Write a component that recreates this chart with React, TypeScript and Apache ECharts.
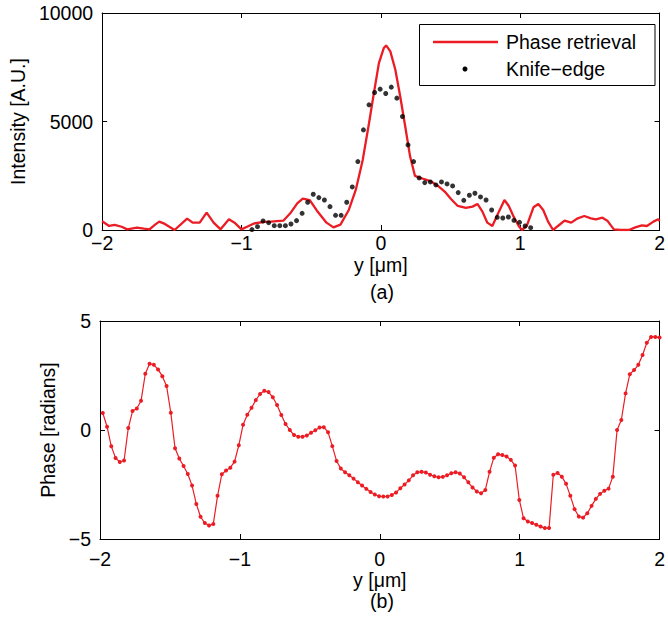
import React, { useEffect, useRef } from 'react';
import * as echarts from 'echarts';

// ---- Panel (a): intensity ----
// Phase retrieval curve (traced vertices): x in µm, intensity in A.U.
const retrievalX = [
  -2.0, -1.95, -1.91, -1.86, -1.82, -1.78, -1.75, -1.7, -1.66, -1.62, -1.59, -1.55, -1.48,
  -1.39, -1.35, -1.3, -1.25, -1.2, -1.15, -1.09, -1.05, -1.0, -0.96, -0.91, -0.84, -0.79,
  -0.7, -0.65, -0.6, -0.56, -0.51, -0.46, -0.39, -0.34, -0.29, -0.23, -0.18, -0.13, -0.085,
  -0.05, -0.014, 0.021, 0.038, 0.068, 0.104, 0.139, 0.175, 0.21, 0.245, 0.281, 0.316, 0.363,
  0.41, 0.458, 0.505, 0.552, 0.61, 0.658, 0.693, 0.729, 0.764, 0.8, 0.847, 0.887, 0.918,
  0.953, 0.989, 1.012, 1.047, 1.095, 1.13, 1.165, 1.2, 1.236, 1.271, 1.318, 1.366, 1.413,
  1.46, 1.507, 1.543, 1.59, 1.625, 1.672, 1.72, 1.78, 1.826, 1.873, 1.909, 1.956, 1.99, 2.0,
];
const retrievalY = [
  400, 185, 240, 150, 30, 80, 110, 60, 30, 250, 385, 280, 0,
  523, 338, 338, 800, 338, 30, 492, 338, 30, 150, 300, 370, 385,
  430, 770, 1230, 1450, 1380, 900, 338, 123, 250, 923, 1846, 3230, 4922,
  6306, 7690, 8384, 8505, 8230, 7384, 6153, 4768, 3384, 2492, 2400, 2338, 2230,
  2030, 1769, 1415, 1107, 1015, 1077, 1200, 846, 338, 185, 846, 1384, 1107,
  615, 185, 0, 185, 1046, 1200, 923, 385, 0, 185, 431, 338, 538,
  646, 538, 492, 569, 431, 31, 0, 0, 123, 215, 185, 385, 492, 415,
];

// Knife-edge measurement: sampled every 0.04 µm starting at -0.925 µm
const KNIFE_X0 = -0.925;
const KNIFE_DX = 0.04;
const knifeY = [
  20, 154, 415, 338, 200, 200, 200, 277, 431, 769, 1277, 1646, 1492, 1384, 1077, 677, 677,
  1277, 1984, 3153, 4614, 5768, 6337, 6491, 6291, 6583, 6076, 5230, 3922, 3153, 2400, 2184,
  2215, 2077, 2215, 2123, 2030, 1723, 1369, 1600, 1692, 1523, 1384, 923, 585, 554, 600, 446,
  354, 185, 108,
];

// ---- Panel (b): phase ----
// sampled on a uniform grid from -1.98 to 2.0 µm
const PHASE_X0 = -1.98;
const PHASE_X1 = 2.0;
const phaseY = [
  0.78, 0.15, -0.75, -1.28, -1.47, -1.4, 0.09, 0.87, 0.99, 1.34,
  2.58, 3.04, 2.99, 2.78, 2.47, 2.02, 0.79, -0.84, -1.31, -1.65,
  -2.02, -2.55, -3.39, -3.98, -4.27, -4.38, -4.31, -3.02, -2.03, -1.86,
  -1.73, -1.45, -0.7, 0.24, 0.7, 1.02, 1.37, 1.65, 1.8, 1.74,
  1.5, 1.15, 0.69, 0.28, 0.0, -0.23, -0.31, -0.31, -0.25, -0.13,
  -0.01, 0.11, 0.13, -0.1, -0.74, -1.42, -1.77, -1.94, -2.08, -2.23,
  -2.4, -2.55, -2.7, -2.84, -2.96, -3.04, -3.05, -3.05, -2.98, -2.87,
  -2.67, -2.5, -2.31, -2.08, -1.94, -1.92, -1.95, -2.05, -2.12, -2.17,
  -2.15, -2.08, -1.98, -1.94, -2.0, -2.17, -2.4, -2.64, -2.82, -2.9,
  -2.75, -1.92, -1.27, -1.11, -1.15, -1.22, -1.37, -1.63, -3.21, -4.05,
  -4.2, -4.27, -4.35, -4.43, -4.5, -4.5, -2.05, -1.97, -2.14, -2.47,
  -3.02, -3.63, -3.97, -4.02, -3.82, -3.48, -3.16, -2.93, -2.79, -2.69,
  -2.14, 0.0, 0.46, 1.68, 2.56, 2.75, 2.99, 3.44, 4.0, 4.27,
  4.27, 4.24,
];

const xTickValues = [-2, -1, 0, 1, 2];
const intensityTicks = [0, 5000, 10000];
const phaseTicks = [-5, 0, 5];

const FONT = '"Liberation Sans", Arial, sans-serif';
const FS = 19.5;
const RED = '#ec1c24';

const minus = (v: number) => String(v).replace('-', '\u2212');

export default function App() {
  const ref = useRef<HTMLDivElement>(null);

  useEffect(() => {
    if (!ref.current) return;
    const chart = echarts.init(ref.current, null, { renderer: 'svg' });

    const retrievalData = retrievalX.map((x, i) => [x, retrievalY[i]]);
    const knifeData = knifeY.map((y, i) => [KNIFE_X0 + i * KNIFE_DX, y]);
    const step = (PHASE_X1 - PHASE_X0) / (phaseY.length - 1);
    const phaseData = phaseY.map((y, i) => [PHASE_X0 + i * step, y]);

    const axisLine = { show: true, onZero: false, lineStyle: { color: '#000', width: 1 } };
    const tick = { show: true, inside: true, length: 5, lineStyle: { color: '#000', width: 1 } };
    const labelStyle = { color: '#000', fontSize: FS, fontFamily: FONT };

    const xMain = (gridIndex: number, margin: number, nameGap: number) => ({
      type: 'value',
      gridIndex,
      position: 'bottom',
      min: xTickValues[0],
      max: xTickValues[xTickValues.length - 1],
      interval: 1,
      axisLine,
      axisTick: tick,
      splitLine: { show: false },
      axisLabel: { ...labelStyle, margin, formatter: minus },
      name: 'y [\u03bcm]',
      nameLocation: 'middle',
      nameGap,
      nameTextStyle: labelStyle,
    });
    const xTop = (gridIndex: number) => ({
      type: 'value',
      gridIndex,
      position: 'top',
      min: xTickValues[0],
      max: xTickValues[xTickValues.length - 1],
      interval: 1,
      axisLine,
      axisTick: tick,
      splitLine: { show: false },
      axisLabel: { show: false },
    });
    const yMain = (gridIndex: number, ticks: number[], name: string, nameGap: number) => ({
      type: 'value',
      gridIndex,
      position: 'left',
      min: ticks[0],
      max: ticks[ticks.length - 1],
      interval: ticks[1] - ticks[0],
      axisLine,
      axisTick: tick,
      splitLine: { show: false },
      axisLabel: { ...labelStyle, margin: 9, formatter: minus },
      name,
      nameLocation: 'middle',
      nameGap,
      nameTextStyle: labelStyle,
    });
    const yRight = (gridIndex: number, ticks: number[]) => ({
      type: 'value',
      gridIndex,
      position: 'right',
      min: ticks[0],
      max: ticks[ticks.length - 1],
      interval: ticks[1] - ticks[0],
      axisLine,
      axisTick: tick,
      splitLine: { show: false },
      axisLabel: { show: false },
    });

    chart.setOption({
      animation: false,
      backgroundColor: '#fff',
      textStyle: { fontFamily: FONT },
      grid: [
        { left: 100, right: 3, top: 13, height: 217 },
        { left: 100, right: 3, top: 321, height: 218 },
      ],
      xAxis: [xMain(0, 3, 25), xTop(0), xMain(1, 10, 16), xTop(1)],
      yAxis: [
        yMain(0, intensityTicks, 'Intensity [A.U.]', 67),
        yRight(0, intensityTicks),
        yMain(1, phaseTicks, 'Phase [radians]', 28),
        yRight(1, phaseTicks),
      ],
      series: [
        {
          name: 'Phase retrieval',
          type: 'line',
          xAxisIndex: 0,
          yAxisIndex: 0,
          data: retrievalData,
          showSymbol: false,
          lineStyle: { color: RED, width: 2.3 },
          itemStyle: { color: RED },
          z: 3,
        },
        {
          name: 'Knife\u2212edge',
          type: 'scatter',
          xAxisIndex: 0,
          yAxisIndex: 0,
          data: knifeData,
          symbol: 'circle',
          symbolSize: 5,
          itemStyle: { color: '#000' },
          z: 4,
        },
        {
          name: 'Phase',
          type: 'line',
          xAxisIndex: 2,
          yAxisIndex: 2,
          data: phaseData,
          showSymbol: true,
          showAllSymbol: true,
          symbol: 'circle',
          symbolSize: 4,
          lineStyle: { color: RED, width: 1.2 },
          itemStyle: { color: RED },
        },
      ],
      graphic: [
        {
          type: 'rect',
          shape: { x: 419.5, y: 24.5, width: 235.5, height: 61 },
          style: { fill: '#fff', stroke: '#000', lineWidth: 1 },
          z: 10,
        },
        {
          type: 'line',
          shape: { x1: 433, y1: 42, x2: 498, y2: 42 },
          style: { stroke: RED, lineWidth: 2.3 },
          z: 11,
        },
        {
          type: 'text',
          x: 506,
          y: 42,
          style: { text: 'Phase retrieval', fill: '#000', font: `${FS}px ${FONT}`, textVerticalAlign: 'middle' },
          z: 11,
        },
        {
          type: 'circle',
          shape: { cx: 465, cy: 69, r: 2.5 },
          style: { fill: '#000' },
          z: 11,
        },
        {
          type: 'text',
          x: 506,
          y: 69,
          style: { text: 'Knife\u2212edge', fill: '#000', font: `${FS}px ${FONT}`, textVerticalAlign: 'middle' },
          z: 11,
        },
        {
          type: 'text',
          x: 382,
          y: 292,
          style: { text: '(a)', fill: '#000', font: `${FS}px ${FONT}`, textAlign: 'center', textVerticalAlign: 'middle' },
        },
        {
          type: 'text',
          x: 382,
          y: 601,
          style: { text: '(b)', fill: '#000', font: `${FS}px ${FONT}`, textAlign: 'center', textVerticalAlign: 'middle' },
        },
      ],
    });

    return () => chart.dispose();
  }, []);

  return (
    <div
      ref={ref}
      style={{ position: 'absolute', left: 0, top: 0, width: 668, height: 617, background: '#fff' }}
    />
  );
}
